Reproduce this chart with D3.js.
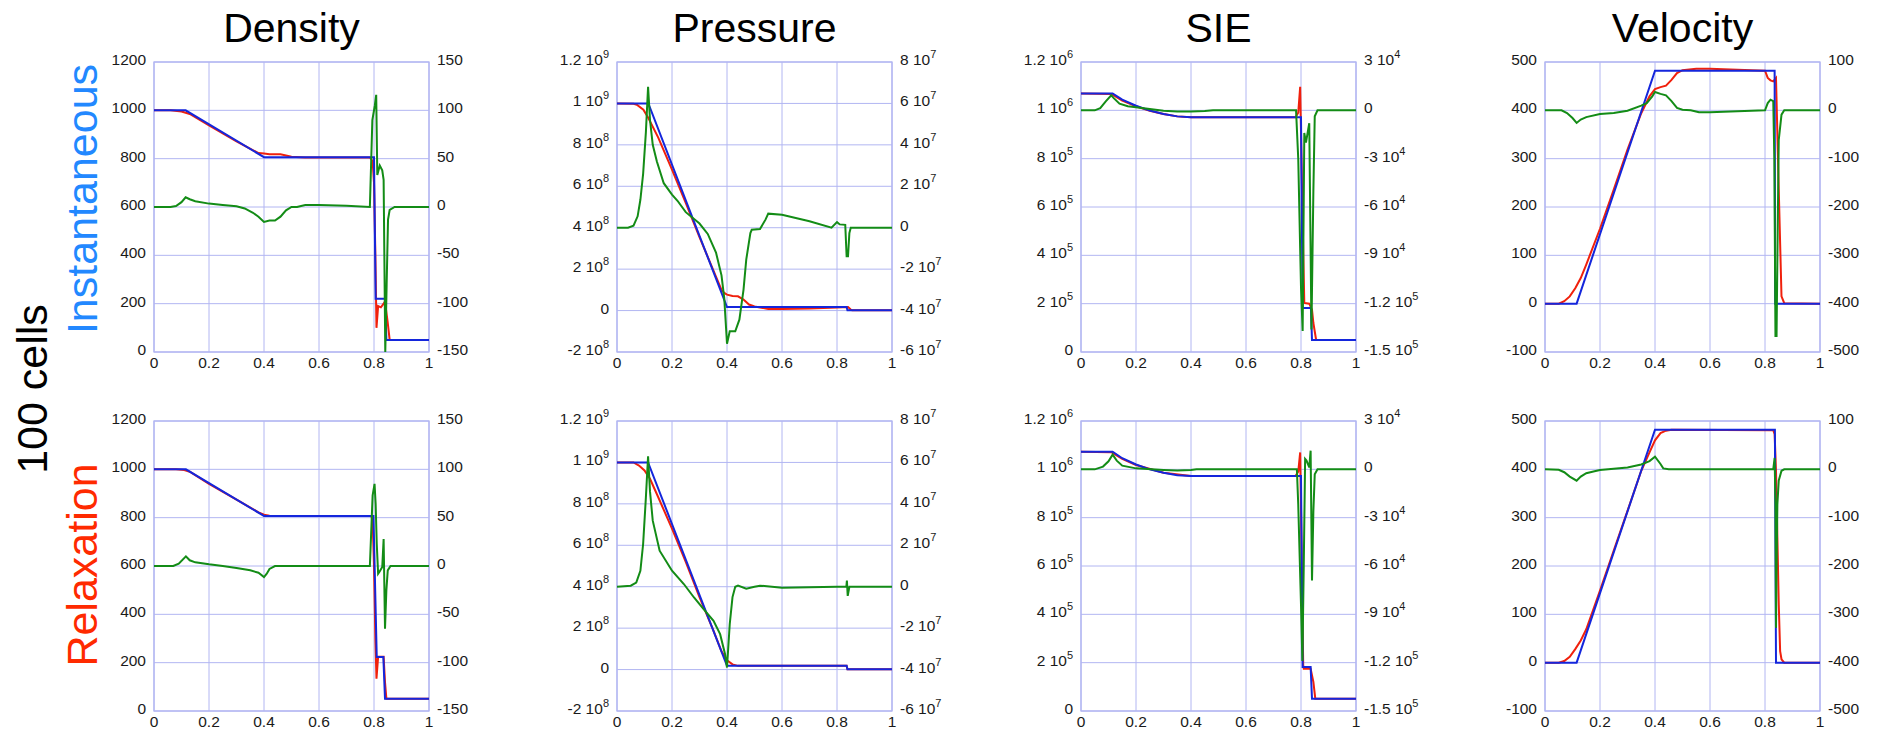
<!DOCTYPE html>
<html>
<head>
<meta charset="utf-8">
<script src="https://cdn.jsdelivr.net/npm/d3@7"></script>
<style>
  body { margin: 0; background: #fff; }
  svg text { font-family: "Liberation Sans", Arial, sans-serif; }
  .tk { font-size: 15.5px; fill: #1a1a1a; }
  .ttl { font-size: 41px; fill: #000; }
  .rowlab { font-size: 43px; }
</style>
</head>
<body>
<div id="chart"></div>
<script>
/* 2x4 grid of shock-tube profiles: red = numerical, blue = exact (left axis),
   green = difference (right axis). Points are [x, value]. */

const titles = ["Density", "Pressure", "SIE", "Velocity"];
const rowLabels = ["Instantaneous", "Relaxation"];
const xTicks = [0, 0.2, 0.4, 0.6, 0.8, 1];

const densLeftTicks = [0, 200, 400, 600, 800, 1000, 1200];
const densRightTicks = [-150, -100, -50, 0, 50, 100, 150];
const pressLeftTicks = [-2e8, 0, 2e8, 4e8, 6e8, 8e8, 1e9, 1.2e9];
const pressRightTicks = [-6e7, -4e7, -2e7, 0, 2e7, 4e7, 6e7, 8e7];
const sieLeftTicks = [0, 2e5, 4e5, 6e5, 8e5, 1e6, 1.2e6];
const sieRightTicks = [-1.5e5, -1.2e5, -9e4, -6e4, -3e4, 0, 3e4];
const velLeftTicks = [-100, 0, 100, 200, 300, 400, 500];
const velRightTicks = [-500, -400, -300, -200, -100, 0, 100];

// ---- Instantaneous ----
const densInstBlue = [[0,1000],[0.115,1000],[0.4,806],[0.8,806],[0.806,220],[0.84,220],[0.845,50],[1,50]];
const densInstRed = [[0,1000],[0.06,1000],[0.1,995],[0.13,985],[0.2,938],[0.3,872],[0.38,823],[0.4,821],[0.42,818],[0.46,818],[0.5,808],[0.55,805],[0.785,805],[0.795,790],[0.8,700],[0.805,400],[0.809,100],[0.815,190],[0.825,185],[0.835,200],[0.84,210],[0.85,120],[0.857,50],[1,50]];
const densInstGreen = [[0,0],[0.06,0],[0.08,1],[0.1,5],[0.115,10],[0.13,8],[0.15,6],[0.2,3.5],[0.25,2],[0.3,0.7],[0.33,-1.5],[0.36,-6],[0.38,-10],[0.4,-15.5],[0.42,-14],[0.44,-14],[0.46,-10],[0.48,-3.5],[0.5,0],[0.52,0],[0.55,2],[0.6,2],[0.7,1.2],[0.785,0],[0.794,90],[0.803,105],[0.808,116],[0.812,33],[0.821,43],[0.83,38],[0.835,28],[0.841,-150],[0.846,-80],[0.851,-13],[0.857,-3],[0.875,0],[1,0]];

const pressInstBlue = [[0,1e9],[0.114,1e9],[0.4,1.7e7],[0.835,1.7e7],[0.838,1e6],[1,1e6]];
const pressInstRed = [[0,1e9],[0.06,0.998e9],[0.072,0.994e9],[0.096,0.97e9],[0.114,0.93e9],[0.15,0.835e9],[0.2,0.68e9],[0.25,0.52e9],[0.3,0.355e9],[0.35,0.195e9],[0.38,0.1e9],[0.39,0.085e9],[0.4,0.077e9],[0.42,0.07e9],[0.44,0.069e9],[0.46,0.053e9],[0.48,0.029e9],[0.5,0.02e9],[0.55,0.008e9],[0.6,0.008e9],[0.7,0.01e9],[0.8,0.015e9],[0.84,0.017e9],[0.85,0.005e9],[0.855,0.001e9],[1,0.001e9]];
const pressInstGreen = [[0,0],[0.04,0],[0.06,0.1e7],[0.075,0.55e7],[0.085,1.35e7],[0.095,2.6e7],[0.105,4.6e7],[0.113,6.8e7],[0.12,5.2e7],[0.13,4.0e7],[0.145,3.2e7],[0.17,2.15e7],[0.2,1.6e7],[0.22,1.3e7],[0.25,0.75e7],[0.3,0.2e7],[0.33,-0.3e7],[0.36,-1.2e7],[0.38,-2.3e7],[0.39,-3.4e7],[0.4,-5.6e7],[0.41,-5.0e7],[0.43,-5.0e7],[0.445,-4.44e7],[0.46,-3.0e7],[0.47,-1.54e7],[0.485,-0.26e7],[0.49,-0.1e7],[0.52,-0.06e7],[0.54,0.39e7],[0.55,0.68e7],[0.6,0.63e7],[0.7,0.31e7],[0.78,0],[0.8,0.27e7],[0.81,0.16e7],[0.83,0.14e7],[0.835,-1.38e7],[0.84,-1.38e7],[0.845,-0.26e7],[0.85,0],[1,0]];

const sieInstBlue = [[0,1.07e6],[0.115,1.07e6],[0.15,1.044e6],[0.2,1.019e6],[0.25,0.999e6],[0.3,0.985e6],[0.35,0.975e6],[0.4,0.971e6],[0.8,0.971e6],[0.806,1.82e5],[0.836,1.82e5],[0.84,0.5e5],[1,0.5e5]];
const sieInstRed = [[0,1.07e6],[0.11,1.068e6],[0.15,1.04e6],[0.2,1.017e6],[0.25,0.998e6],[0.3,0.985e6],[0.35,0.975e6],[0.4,0.971e6],[0.78,0.971e6],[0.79,0.99e6],[0.797,1.097e6],[0.805,0.6e6],[0.812,2.03e5],[0.83,2.0e5],[0.84,1.75e5],[0.845,1.2e5],[0.855,0.5e5],[1,0.5e5]];
const sieInstGreen = [[0,0],[0.05,0],[0.07,0.14e4],[0.09,0.56e4],[0.11,0.93e4],[0.12,0.74e4],[0.14,0.41e4],[0.17,0.25e4],[0.2,0.19e4],[0.25,0.08e4],[0.3,-0.02e4],[0.35,-0.08e4],[0.4,-0.08e4],[0.45,-0.04e4],[0.48,0],[0.782,0],[0.79,-3e4],[0.8,-11e4],[0.806,-13.7e4],[0.812,-1.4e4],[0.818,-2.0e4],[0.83,-0.8e4],[0.838,-13.6e4],[0.845,-5e4],[0.85,-0.37e4],[0.86,0],[1,0]];

const velInstBlue = [[0,0],[0.115,0],[0.4,482],[0.835,482],[0.837,0],[1,0]];
const velInstRed = [[0,0],[0.05,0],[0.07,5],[0.09,15],[0.11,32],[0.13,53],[0.15,81],[0.2,155],[0.25,236],[0.3,319],[0.35,394],[0.38,429],[0.4,444],[0.42,448],[0.44,451],[0.46,463],[0.48,477],[0.5,483],[0.55,486],[0.6,486],[0.7,484],[0.8,482],[0.81,467],[0.82,462],[0.83,460],[0.84,467],[0.85,236],[0.86,15],[0.87,1],[1,0]];
const velInstGreen = [[0,0],[0.06,0],[0.08,-5.5],[0.1,-16],[0.115,-26],[0.13,-19],[0.15,-14],[0.2,-7.6],[0.25,-5.5],[0.3,-0.7],[0.35,9.7],[0.37,15],[0.39,29],[0.4,38],[0.42,34],[0.44,31],[0.46,19],[0.48,5],[0.5,1.4],[0.53,0],[0.56,-4],[0.6,-4],[0.7,-2],[0.8,0],[0.81,15],[0.82,22],[0.83,19],[0.834,-100],[0.838,-467],[0.842,-467],[0.846,-254],[0.85,-61],[0.86,-9],[0.87,0],[1,0]];

// ---- Relaxation ----
const densRelBlue = [[0,1000],[0.116,1000],[0.4,807],[0.798,807],[0.81,223],[0.834,223],[0.84,51],[1,51]];
const densRelRed = [[0,1000],[0.08,1000],[0.11,997],[0.13,990],[0.2,940],[0.3,875],[0.38,822],[0.4,812],[0.42,808],[0.44,807],[0.79,807],[0.795,790],[0.8,600],[0.805,300],[0.809,134],[0.815,225],[0.835,225],[0.84,120],[0.845,51],[1,51]];
const densRelGreen = [[0,0],[0.07,0],[0.09,2.4],[0.116,10],[0.13,5.9],[0.15,3.8],[0.2,1.7],[0.25,0],[0.3,-2],[0.35,-4.5],[0.38,-7],[0.4,-11.4],[0.41,-8],[0.42,-3],[0.44,0],[0.785,0],[0.795,73],[0.802,85],[0.806,64],[0.81,23],[0.815,-8],[0.82,-6],[0.83,-1],[0.835,28],[0.84,-65],[0.845,-25],[0.85,-4.5],[0.86,0],[1,0]];

const pressRelBlue = [[0,1e9],[0.113,1e9],[0.4,1.8e7],[0.835,1.8e7],[0.838,2e6],[1,2e6]];
const pressRelRed = [[0,1e9],[0.06,1e9],[0.08,0.985e9],[0.1,0.961e9],[0.12,0.921e9],[0.15,0.832e9],[0.2,0.68e9],[0.25,0.52e9],[0.3,0.35e9],[0.35,0.19e9],[0.38,0.088e9],[0.4,0.045e9],[0.42,0.025e9],[0.44,0.018e9],[0.835,0.018e9],[0.838,0.002e9],[1,0.002e9]];
const pressRelGreen = [[0,0],[0.05,0.05e7],[0.07,0.2e7],[0.085,0.77e7],[0.095,2.06e7],[0.105,4.3e7],[0.113,6.3e7],[0.12,4.6e7],[0.13,3.19e7],[0.155,1.74e7],[0.2,0.77e7],[0.243,0.13e7],[0.28,-0.52e7],[0.315,-1.08e7],[0.351,-1.65e7],[0.375,-2.29e7],[0.393,-3.26e7],[0.4,-3.9e7],[0.41,-1.8e7],[0.42,-0.5e7],[0.43,0],[0.44,0.05e7],[0.47,-0.1e7],[0.5,0],[0.52,0.05e7],[0.6,-0.05e7],[0.8,0],[0.834,0],[0.836,0.3e7],[0.839,-0.44e7],[0.845,0],[1,0]];

const sieRelBlue = [[0,1.073e6],[0.115,1.073e6],[0.15,1.046e6],[0.2,1.02e6],[0.25,1.0e6],[0.3,0.986e6],[0.35,0.976e6],[0.4,0.972e6],[0.8,0.972e6],[0.806,1.82e5],[0.835,1.82e5],[0.84,0.51e5],[1,0.51e5]];
const sieRelRed = [[0,1.073e6],[0.11,1.071e6],[0.15,1.043e6],[0.2,1.018e6],[0.3,0.986e6],[0.4,0.972e6],[0.78,0.972e6],[0.79,0.99e6],[0.797,1.07e6],[0.803,0.6e6],[0.808,1.9e5],[0.81,1.75e5],[0.835,1.75e5],[0.845,1.2e5],[0.852,0.51e5],[1,0.51e5]];
const sieRelGreen = [[0,0],[0.05,0],[0.08,0.17e4],[0.1,0.5e4],[0.115,0.91e4],[0.13,0.54e4],[0.15,0.23e4],[0.2,0.06e4],[0.3,-0.04e4],[0.35,-0.08e4],[0.4,-0.04e4],[0.42,0],[0.785,0],[0.79,-2.2e4],[0.8,-8.4e4],[0.805,-11.9e4],[0.81,-6e4],[0.815,0.64e4],[0.82,0.54e4],[0.83,0.12e4],[0.835,1.16e4],[0.84,-6.9e4],[0.845,-2.6e4],[0.85,-0.3e4],[0.86,0],[1,0]];

const velRelBlue = [[0,0],[0.115,0],[0.4,482],[0.836,482],[0.84,0],[1,0]];
const velRelRed = [[0,0],[0.05,0],[0.07,3.5],[0.09,12],[0.11,28],[0.13,46],[0.15,69],[0.2,149],[0.25,232],[0.3,314],[0.35,397],[0.38,435],[0.4,460],[0.42,475],[0.44,480],[0.46,482],[0.83,481],[0.835,473],[0.84,397],[0.845,259],[0.85,121],[0.855,24],[0.86,7],[0.87,0],[1,0]];
const velRelGreen = [[0,0],[0.05,-1],[0.07,-6],[0.09,-15],[0.115,-23.5],[0.13,-15],[0.15,-8],[0.18,-4],[0.2,-1.4],[0.3,4],[0.35,10],[0.38,17],[0.4,26],[0.42,11],[0.43,2],[0.45,0],[0.83,0],[0.835,23.5],[0.838,-72],[0.84,-328],[0.842,-210],[0.845,-72],[0.85,-23],[0.86,-3],[0.87,0],[1,0]];

const W = 1879, H = 731;
const colLeft = [154, 617, 1081, 1545];
const rowTop = [62, 421];
const pw = 275, ph = 290;
const C = { red: "#f0200c", blue: "#1426dc", green: "#138c16", grid: "#b2b6f2" };

const cols = [
  { left: densLeftTicks, right: densRightTicks, sci: false },
  { left: pressLeftTicks, right: pressRightTicks, sci: true },
  { left: sieLeftTicks, right: sieRightTicks, sci: true },
  { left: velLeftTicks, right: velRightTicks, sci: false }
];
const rows = [
  [[densInstRed, densInstBlue, densInstGreen], [pressInstRed, pressInstBlue, pressInstGreen],
   [sieInstRed, sieInstBlue, sieInstGreen], [velInstRed, velInstBlue, velInstGreen]],
  [[densRelRed, densRelBlue, densRelGreen], [pressRelRed, pressRelBlue, pressRelGreen],
   [sieRelRed, sieRelBlue, sieRelGreen], [velRelRed, velRelBlue, velRelGreen]]
];

const svg = d3.select("#chart").append("svg").attr("width", W).attr("height", H);

// tick label: plain number or "m 10^e"
function tickLabel(sel, v, sci) {
  if (!sci || v === 0) { sel.text(v); return; }
  const e = Math.floor(Math.log10(Math.abs(v)) + 1e-9);
  const m = +(v / Math.pow(10, e)).toFixed(2);
  sel.append("tspan").text(m + " 10");
  sel.append("tspan").attr("dy", -7).attr("font-size", "11px").text(e);
}

titles.forEach((t, c) => {
  svg.append("text").attr("class", "ttl").attr("x", colLeft[c] + pw / 2).attr("y", 42)
    .attr("text-anchor", "middle").text(t);
});

svg.append("text").attr("class", "rowlab").attr("fill", "#000")
  .attr("transform", "translate(47,389) rotate(-90)").attr("text-anchor", "middle").text("100 cells");
svg.append("text").attr("class", "rowlab").attr("fill", "#2288ff")
  .attr("transform", "translate(97,199) rotate(-90)").attr("text-anchor", "middle").text(rowLabels[0]);
svg.append("text").attr("class", "rowlab").attr("fill", "#ff2a00")
  .attr("transform", "translate(97,565) rotate(-90)").attr("text-anchor", "middle").text(rowLabels[1]);

rows.forEach((row, r) => {
  row.forEach((series, c) => {
    const cfg = cols[c];
    const x0 = colLeft[c], y0 = rowTop[r];
    const x = d3.scaleLinear().domain([0, 1]).range([x0, x0 + pw]);
    const yL = d3.scaleLinear().domain(d3.extent(cfg.left)).range([y0 + ph, y0]);
    const yR = d3.scaleLinear().domain(d3.extent(cfg.right)).range([y0 + ph, y0]);
    const g = svg.append("g");

    // grid
    g.selectAll(".hg").data(cfg.left).join("line")
      .attr("x1", x0).attr("x2", x0 + pw).attr("y1", d => yL(d)).attr("y2", d => yL(d))
      .attr("stroke", C.grid).attr("stroke-width", 1);
    g.selectAll(".vg").data(xTicks).join("line")
      .attr("x1", d => x(d)).attr("x2", d => x(d)).attr("y1", y0).attr("y2", y0 + ph)
      .attr("stroke", C.grid).attr("stroke-width", 1);
    g.append("rect").attr("x", x0).attr("y", y0).attr("width", pw).attr("height", ph)
      .attr("fill", "none").attr("stroke", C.grid).attr("stroke-width", 1.3);

    // tick labels
    cfg.left.forEach(v => {
      const t = g.append("text").attr("class", "tk").attr("x", x0 - 8).attr("y", yL(v) + 3)
        .attr("text-anchor", "end");
      tickLabel(t, v, cfg.sci);
    });
    cfg.right.forEach(v => {
      const t = g.append("text").attr("class", "tk").attr("x", x0 + pw + 8).attr("y", yR(v) + 3)
        .attr("text-anchor", "start");
      tickLabel(t, v, cfg.sci);
    });
    xTicks.forEach(v => {
      g.append("text").attr("class", "tk").attr("x", x(v)).attr("y", y0 + ph + 16)
        .attr("text-anchor", "middle").text(v);
    });

    // lines
    const cid = "clip" + r + c;
    svg.append("clipPath").attr("id", cid).append("rect")
      .attr("x", x0).attr("y", y0 - 1).attr("width", pw).attr("height", ph + 2);
    const lineL = d3.line().x(d => x(d[0])).y(d => yL(d[1]));
    const lineR = d3.line().x(d => x(d[0])).y(d => yR(d[1]));
    const lg = g.append("g").attr("clip-path", `url(#${cid})`);
    lg.append("path").datum(series[0]).attr("d", lineL)
      .attr("fill", "none").attr("stroke", C.red).attr("stroke-width", 2);
    lg.append("path").datum(series[1]).attr("d", lineL)
      .attr("fill", "none").attr("stroke", C.blue).attr("stroke-width", 2);
    lg.append("path").datum(series[2]).attr("d", lineR)
      .attr("fill", "none").attr("stroke", C.green).attr("stroke-width", 2);
  });
});
</script>
</body>
</html>
